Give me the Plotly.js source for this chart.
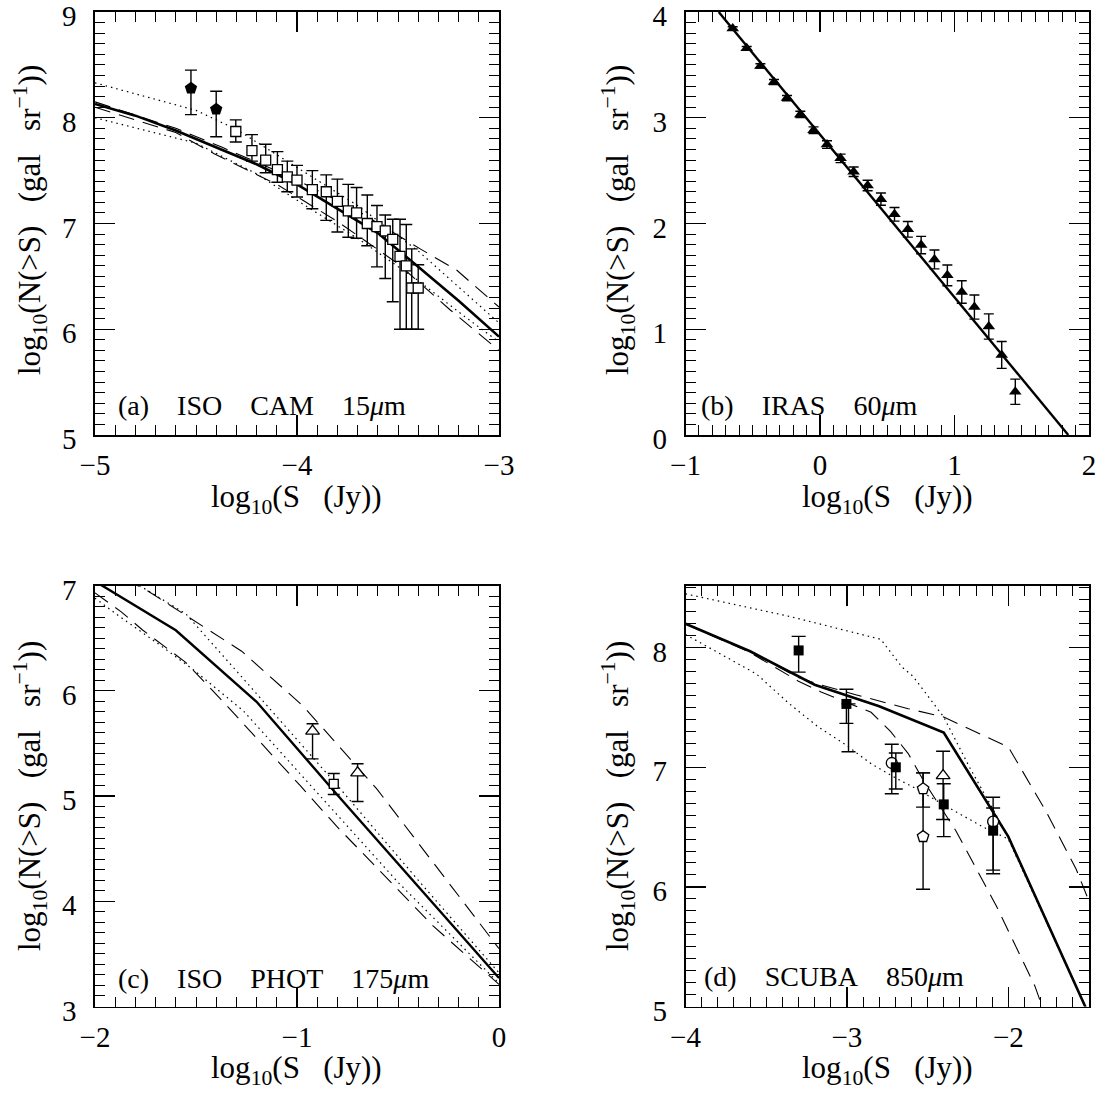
<!DOCTYPE html>
<html><head><meta charset="utf-8">
<script src="https://cdn.plot.ly/plotly-3.0.1.min.js"></script>
<style>html,body{margin:0;padding:0;background:#fff}#chart{width:1104px;height:1102px}</style>
</head><body><div id="chart"></div>
<script>
// ---------- Panel (a) ISO CAM 15um ----------
const aSolidX = [-5.0, -4.8, -4.6, -4.4, -4.2, -4.0, -3.8, -3.6, -3.4, -3.2, -3.0];
const aSolidY = [8.13, 8.02, 7.88, 7.72, 7.56, 7.37, 7.14, 6.91, 6.59, 6.27, 5.93];
const aDashUpX = [-5.0, -4.6, -4.37, -4.03, -3.7, -3.39, -3.21, -3.0];
const aDashUpY = [8.15, 7.90, 7.72, 7.44, 7.12, 6.76, 6.56, 6.21];
const aDotUpX = [-5.0, -4.5, -4.3, -4.0, -3.7, -3.4, -3.0];
const aDotUpY = [8.33, 8.07, 7.89, 7.53, 7.17, 6.74, 6.06];
const aDotLowX = [-5.0, -4.5, -4.2, -3.96, -3.7, -3.4, -3.17, -3.0];
const aDotLowY = [8.00, 7.76, 7.47, 7.17, 6.86, 6.46, 6.12, 5.88];
const aDashLowX = [-5.0, -4.6, -4.41, -4.25, -4.1, -3.8, -3.5, -3.24, -3.0];
const aDashLowY = [8.10, 7.86, 7.66, 7.51, 7.37, 7.02, 6.62, 6.18, 5.80];
const aPentX = [-4.525, -4.40];
const aPentY = [8.28, 8.08];
const aPentHi = [8.45, 8.25];
const aPentLo = [8.03, 7.82];
const aSqX = [-4.303, -4.223, -4.155, -4.097, -4.048, -4.0, -3.924, -3.855, -3.80, -3.746, -3.705, -3.652, -3.604, -3.563, -3.526, -3.49, -3.459, -3.432, -3.40];
const aSqY = [7.87, 7.69, 7.60, 7.51, 7.44, 7.41, 7.32, 7.30, 7.21, 7.12, 7.10, 7.00, 6.97, 6.93, 6.85, 6.69, 6.60, 6.39, 6.39];
const aSqHi = [7.98, 7.84, 7.75, 7.68, 7.59, 7.55, 7.50, 7.46, 7.42, 7.37, 7.34, 7.27, 7.17, 7.08, 7.04, 7.04, 6.99, 6.76, 6.61];
const aSqLo = [7.77, 7.59, 7.48, 7.39, 7.30, 7.25, 7.14, 7.03, 6.92, 6.87, 6.86, 6.79, 6.59, 6.48, 6.26, 6.00, 6.00, 6.00, 6.00];

// ---------- Panel (b) IRAS 60um ----------
const bSolidX = [-0.753, 1.846];
const bSolidY = [4.0, 0.0];
const bTriX = [-0.649, -0.545, -0.443, -0.342, -0.245, -0.146, -0.048, 0.052, 0.153, 0.25, 0.354, 0.453, 0.554, 0.653, 0.752, 0.851, 0.947, 1.054, 1.148, 1.255, 1.351, 1.452];
const bTriY = [3.845, 3.658, 3.49, 3.338, 3.186, 3.031, 2.882, 2.746, 2.616, 2.489, 2.359, 2.23, 2.087, 1.945, 1.796, 1.66, 1.51, 1.352, 1.21, 1.026, 0.757, 0.409];
const bTriErr = [0.016, 0.016, 0.02, 0.024, 0.025, 0.03, 0.032, 0.036, 0.04, 0.045, 0.05, 0.058, 0.065, 0.074, 0.082, 0.089, 0.098, 0.106, 0.114, 0.119, 0.127, 0.119];

// ---------- Panel (c) ISO PHOT 175um ----------
const cSolidX = [-2.0, -1.6, -1.2, -0.8, -0.4, 0.0];
const cSolidY = [7.04, 6.575, 5.895, 5.01, 4.14, 3.27];
const cDotUpX = [-1.78, -1.55, -1.25, -0.8, -0.4, 0.0];
const cDotUpY = [7.0, 6.73, 6.08, 5.10, 4.20, 3.32];
const cDotLowX = [-2.0, -1.885, -1.687, -1.52, -1.266, -0.96, -0.5, 0.0];
const cDotLowY = [6.88, 6.715, 6.446, 6.21, 5.81, 5.16, 4.18, 3.22];
const cDashUpX = [-1.85, -1.744, -1.274, -0.969, -0.605, -0.185, 0.0];
const cDashUpY = [7.06, 6.955, 6.376, 5.853, 5.068, 4.01, 3.55];
const cDashLowX = [-2.0, -1.87, -1.766, -1.551, -1.356, -1.172, -0.985, -0.804, -0.325, 0.0];
const cDashLowY = [6.93, 6.75, 6.58, 6.27, 5.876, 5.496, 5.10, 4.713, 3.763, 3.21];
const cTriX = [-0.923, -0.70];
const cTriY = [5.616, 5.22];
const cTriHi = [5.686, 5.306];
const cTriLo = [5.353, 4.948];
const cSqX = [-0.818];
const cSqY = [5.116];
const cSqHi = [5.214];
const cSqLo = [5.014];

// ---------- Panel (d) SCUBA 850um ----------
const dSolidX = [-4.0, -3.6, -3.2, -2.8, -2.4, -2.0, -1.5];
const dSolidY = [8.20, 7.97, 7.69, 7.51, 7.29, 6.42, 4.93];
const dDotUpX = [-4.0, -3.35, -2.79, -2.66, -2.59, -2.40, -2.24, -2.09, -2.0, -1.5];
const dDotUpY = [8.45, 8.26, 8.07, 7.84, 7.76, 7.42, 7.0, 6.64, 6.42, 4.93];
const dDotLowX = [-4.0, -3.81, -3.56, -3.36, -3.18, -3.01, -2.85, -2.69, -2.59, -2.34, -2.155, -2.0, -1.5];
const dDotLowY = [8.11, 7.97, 7.78, 7.535, 7.34, 7.19, 7.03, 6.905, 6.835, 6.64, 6.5, 6.4, 4.93];
const dDashUpX = [-4.0, -3.6, -3.3, -3.19, -2.94, -2.62, -2.4, -2.0, -1.77, -1.58, -1.5];
const dDashUpY = [8.20, 7.97, 7.75, 7.70, 7.605, 7.49, 7.42, 7.17, 6.64, 6.15, 5.88];
const dDashLowX = [-4.0, -3.6, -3.3, -3.16, -2.85, -2.73, -2.62, -2.52, -2.325, -2.07, -1.835, -1.79];
const dDashLowY = [8.20, 7.96, 7.72, 7.63, 7.46, 7.30, 7.115, 6.876, 6.47, 5.83, 5.17, 5.0];
const dSqX = [-3.299, -3.003, -2.697, -2.40, -2.094];
const dSqY = [7.977, 7.53, 7.0, 6.69, 6.47];
const dSqHi = [8.095, 7.653, 7.12, 6.863, 6.66];
const dSqLo = [7.796, 7.367, 6.818, 6.42, 6.11];
const dCircX = [-2.722, -2.094];
const dCircY = [7.036, 6.546];
const dCircHi = [7.193, 6.75];
const dCircLo = [6.779, 6.14];
const dHidX = [-2.99];
const dHidY = [7.53];
const dHidHi = [7.53];
const dHidLo = [7.13];
const dPentX = [-2.528, -2.528];
const dPentY = [6.82, 6.42];
const dPentHi = [6.953, 6.953];
const dPentLo = [6.667, 5.98];
const dTriX = [-2.404];
const dTriY = [6.93];
const dTriHi = [7.134];
const dTriLo = [6.563];

// ---------- text ----------
const xTitle = 'log<sub>10</sub>(S (Jy))';
const yTitle = 'log<sub>10</sub>(N(>S) (gal sr<sup>−1</sup>))';
const panelLabels = ['(a) ISO CAM 15<i>μ</i>m', '(b) IRAS 60<i>μ</i>m', '(c) ISO PHOT 175<i>μ</i>m', '(d) SCUBA 850<i>μ</i>m'];

// ---------- build ----------
const FONT = 'Liberation Serif, Times New Roman, serif';
const DASH = '16px,9px';
const DOT = '1.5px,4px';

function line(x, y, dash, width, n) {
  return {type: 'scatter', mode: 'lines', x: x, y: y, xaxis: 'x' + n, yaxis: 'y' + n,
    line: {color: 'black', width: width, dash: dash}, hoverinfo: 'skip'};
}
function pts(x, y, hi, lo, symbol, size, capw, n, filled) {
  const up = y.map((v, i) => hi[i] - v);
  const dn = y.map((v, i) => v - lo[i]);
  return {type: 'scatter', mode: 'markers', x: x, y: y, xaxis: 'x' + n, yaxis: 'y' + n,
    marker: {symbol: symbol, size: size, color: filled ? 'black' : 'white',
      line: {color: 'black', width: filled ? 0 : 1.3}},
    error_y: {type: 'data', symmetric: false, array: up, arrayminus: dn,
      color: 'black', thickness: 1.4, width: capw},
    hoverinfo: 'skip', cliponaxis: false};
}

const traces = [
  line(aDotUpX, aDotUpY, DOT, 1.2, 1),
  line(aDotLowX, aDotLowY, DOT, 1.2, 1),
  line(aDashUpX, aDashUpY, DASH, 1.1, 1),
  line(aDashLowX, aDashLowY, DASH, 1.1, 1),
  line(aSolidX, aSolidY, 'solid', 2.6, 1),
  pts(aSqX, aSqY, aSqHi, aSqLo, 'square', 10, 6, 1, false),
  pts(aPentX, aPentY, aPentHi, aPentLo, 'pentagon', 13, 6, 1, true),

  line(bSolidX, bSolidY, 'solid', 2.4, 2),
  pts(bTriX, bTriY, bTriX.map((v, i) => bTriY[i] + bTriErr[i]), bTriX.map((v, i) => bTriY[i] - bTriErr[i]), 'triangle-up', 11, 5, 2, true),

  line(cDotUpX, cDotUpY, DOT, 1.2, 3),
  line(cDotLowX, cDotLowY, DOT, 1.2, 3),
  line(cDashUpX, cDashUpY, DASH, 1.1, 3),
  line(cDashLowX, cDashLowY, DASH, 1.1, 3),
  line(cSolidX, cSolidY, 'solid', 2.4, 3),
  pts(cTriX, cTriY, cTriHi, cTriLo, 'triangle-up', 12, 6, 3, false),
  pts(cSqX, cSqY, cSqHi, cSqLo, 'square', 9, 6, 3, false),

  line(dDotUpX, dDotUpY, DOT, 1.2, 4),
  line(dDotLowX, dDotLowY, DOT, 1.2, 4),
  line(dDashUpX, dDashUpY, DASH, 1.1, 4),
  line(dDashLowX, dDashLowY, DASH, 1.1, 4),
  line(dSolidX, dSolidY, 'solid', 2.6, 4),
  pts(dHidX, dHidY, dHidHi, dHidLo, 'line-ew', 1, 7, 4, false),
  pts(dPentX, dPentY, dPentHi, dPentLo, 'pentagon', 12, 7, 4, false),
  pts(dTriX, dTriY, dTriHi, dTriLo, 'triangle-up', 12, 7, 4, false),
  pts(dCircX, dCircY, dCircHi, dCircLo, 'circle', 11, 7, 4, false),
  pts(dSqX, dSqY, dSqHi, dSqLo, 'square', 10, 7, 4, true)
];

const W = 1104, H = 1102;
const xDomL = [95 / W, 499 / W], xDomR = [685.5 / W, 1089 / W];
const yDomT = [1 - 435 / H, 1 - 12 / H], yDomB = [1 - 1006.5 / H, 1 - 585.5 / H];

function axis(domain, range, anchor, isX) {
  const a = {domain: domain, range: range, anchor: anchor, autorange: false,
    tickmode: 'linear', tick0: 0, dtick: 1, ticks: 'inside', ticklen: 20, tickwidth: 1.3, tickcolor: '#000000',
    mirror: 'allticks', showline: true, linecolor: '#000000', linewidth: 1.6,
    showgrid: false, zeroline: false, ticklabeloverflow: 'allow',
    tickfont: {family: FONT, size: 29, color: 'black'},
    ticklabelstandoff: isX ? 4 : 11,
    minor: {tick0: 0, dtick: 0.1, ticks: 'inside', ticklen: 10, tickwidth: 1, tickcolor: '#000000', showgrid: false}};
  if (!isX) a.ticklabelshift = 4;
  return a;
}

const layout = {
  width: W, height: H, margin: {l: 0, r: 0, t: 0, b: 0},
  paper_bgcolor: 'white', plot_bgcolor: 'white', showlegend: false,
  xaxis: axis(xDomL, [-5, -3], 'y', true), yaxis: axis(yDomT, [5, 9], 'x', false),
  xaxis2: axis(xDomR, [-1, 2], 'y2', true), yaxis2: axis(yDomT, [0, 4], 'x2', false),
  xaxis3: axis(xDomL, [-2, 0], 'y3', true), yaxis3: axis(yDomB, [3, 7], 'x3', false),
  xaxis4: axis(xDomR, [-4, -1.5], 'y4', true), yaxis4: axis(yDomB, [5, 8.52], 'x4', false),
  annotations: []
};

const nb = k => '\u00a0'.repeat(k);
const xT = [[297, 499], [887, 499], [297, 1070], [887, 1070]];
const yT = [[30, 220], [618, 220], [30, 796], [618, 796]];
const pL = [[116, 405], [699, 405], [116, 978], [702, 976]];
for (let i = 0; i < 4; i++) {
  layout.annotations.push({xref: 'paper', yref: 'paper', x: xT[i][0] / W, y: 1 - xT[i][1] / H,
    xanchor: 'center', yanchor: 'middle', showarrow: false, text: xTitle.replace(' ', nb(3)),
    font: {family: FONT, size: 31, color: 'black'}});
  layout.annotations.push({xref: 'paper', yref: 'paper', x: yT[i][0] / W, y: 1 - yT[i][1] / H,
    xanchor: 'center', yanchor: 'middle', showarrow: false, textangle: -90,
    text: yTitle.replace(/ /g, nb(3)),
    font: {family: FONT, size: 31, color: 'black'}});
  layout.annotations.push({xref: 'paper', yref: 'paper', x: pL[i][0] / W, y: 1 - pL[i][1] / H,
    xanchor: 'left', yanchor: 'middle', showarrow: false, text: panelLabels[i].replace(/ /g, nb(4)),
    font: {family: FONT, size: 28, color: 'black'}});
}

Plotly.newPlot('chart', traces, layout, {staticPlot: true, displayModeBar: false});
</script></body></html>
